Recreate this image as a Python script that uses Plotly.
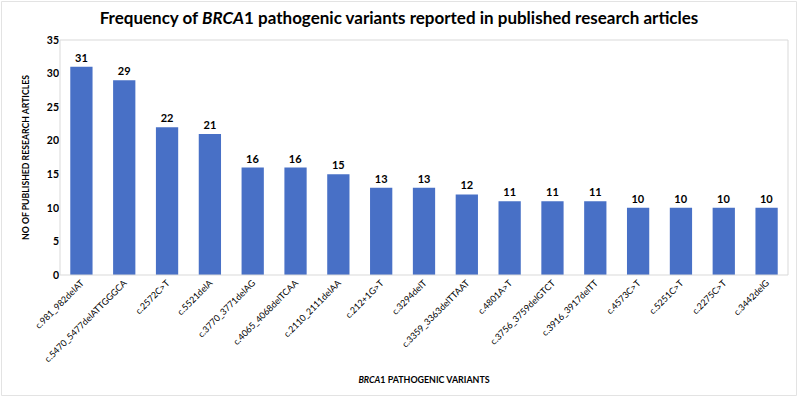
import plotly.graph_objects as go

variants = ["c.981_982delAT", "c.5470_5477delATTGGGCA", "c.2572C>T", "c.5521delA",
            "c.3770_3771delAG", "c.4065_4068delTCAA", "c.2110_2111delAA", "c.212+1G>T",
            "c.3294delT", "c.3359_3363delTTAAT", "c.4801A>T", "c.3756_3759delGTCT",
            "c.3916_3917delTT", "c.4573C>T", "c.5251C>T", "c.2275C>T", "c.3442delG"]
counts = [31, 29, 22, 21, 16, 16, 15, 13, 13, 12, 11, 11, 11, 10, 10, 10, 10]
y_ticks = [0, 5, 10, 15, 20, 25, 30, 35]

FONT = "Lato"
W, H = 798, 397
L, R, T, B = 60, 10, 40, 122
PW, PH = W - L - R, H - T - B

fig = go.Figure(go.Bar(
    x=variants, y=counts,
    marker=dict(color="#4870C6", line=dict(width=0)),
    text=[str(c) for c in counts], textposition="outside",
    textfont=dict(family=FONT, size=11, color="#000000", weight="bold"),
    cliponaxis=False,
))

fig.update_layout(
    width=W, height=H,
    margin=dict(l=L, r=R, t=T, b=B, autoexpand=False),
    paper_bgcolor="white", plot_bgcolor="white",
    bargap=0.48,
    showlegend=False,
    title=dict(
        text="Frequency of <i>BRCA</i>1 pathogenic variants reported in published research articles",
        x=0.5, xref="container", xanchor="center", y=1 - 18 / H, yanchor="middle",
        font=dict(family=FONT, size=17, color="#000000", weight="bold"),
        automargin=False,
    ),
    font=dict(family=FONT, color="#000000"),
    shapes=[
        dict(type="rect", xref="paper", yref="paper", x0=0, x1=1, y0=0, y1=1,
             line=dict(color="#D9D9D9", width=1), layer="above"),
        dict(type="rect", xref="paper", yref="paper",
             x0=-(L - 1.5) / PW, x1=1 + (R - 1.5) / PW,
             y0=-(B - 1.5) / PH, y1=1 + (T - 1.5) / PH,
             line=dict(color="#E3E3E3", width=1), layer="above"),
    ],
)

fig.update_yaxes(
    range=[0, 35], tickvals=y_ticks, showgrid=False, zeroline=False,
    showline=False, ticks="", automargin=False,
    tickfont=dict(family=FONT, size=10.5, color="#000000", weight="bold"),
    title=dict(text="NO OF PUBLISHED RESEARCH ARTICLES", standoff=15,
               font=dict(family=FONT, size=8.7, color="#000000", weight="bold")),
)
fig.update_xaxes(
    tickangle=-45, showgrid=False, showline=False, ticks="", automargin=False,
    tickfont=dict(family=FONT, size=9, color="#000000"),
    title=dict(text="<i>BRCA</i>1 PATHOGENIC VARIANTS", standoff=13,
               font=dict(family=FONT, size=8.9, color="#000000", weight="bold")),
)

fig.write_html("out.html", config={"displayModeBar": False},
               post_script="document.body.style.margin='0';")
